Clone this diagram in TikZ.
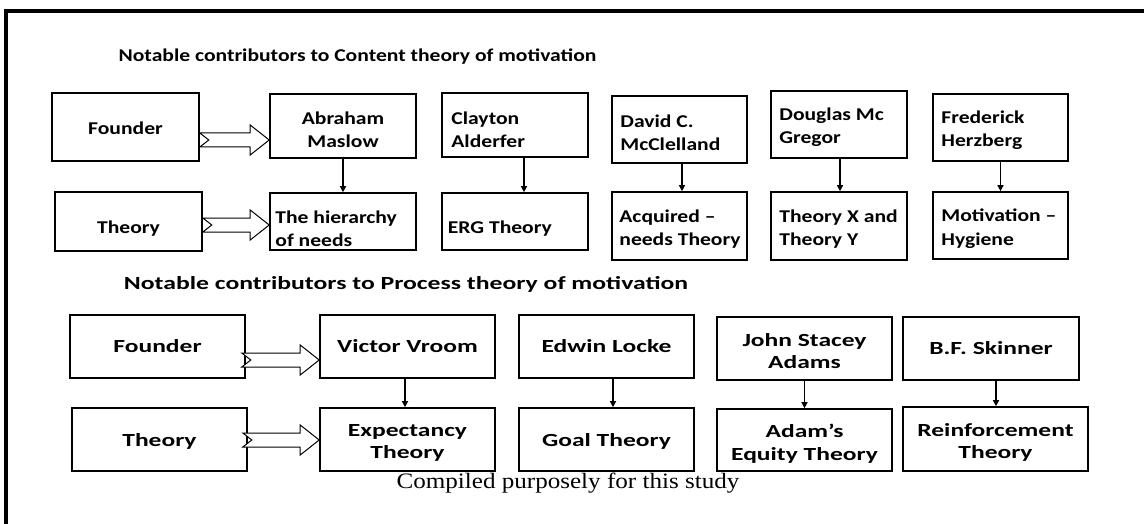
\documentclass[tikz,border=0pt]{standalone}
\usepackage{fontspec}
\setmainfont{Liberation Serif}
\newfontfamily\capfont{Liberation Serif}[FakeStretch=1.14]
\newfontfamily\cfont{Carlito}[FakeStretch=1.2]
\newfontfamily\pfont{Carlito}[FakeStretch=1.38]
\newfontfamily\tafont{Carlito}[FakeStretch=1.2]
\newfontfamily\tbfont{Carlito}[FakeStretch=1.39]
\usetikzlibrary{arrows.meta,calc}
\tikzset{
  bx/.style={draw, line width=1.6pt, inner sep=0pt},
  ct/.style={inner sep=0pt, align=left, font=\cfont\bfseries\fontsize{18}{23.5}\selectfont},
  ctc/.style={ct, align=center},
  pt/.style={inner sep=0pt, align=center, font=\pfont\bfseries\fontsize{18.5}{22.5}\selectfont},
  harrow/.style={draw, line width=1pt, fill=white, line join=miter},
  varrow/.style={line width=1.3pt, -{Triangle[length=6pt,width=6pt]}},
}
\newcommand\abox[5]{\node[bx, minimum width=#4pt, minimum height=#5pt] (#1) at (#2,-#3) {};}
\newcommand\hollowarrow[2]{%
  \draw[harrow] let \p1=(#1), \p2=(#2) in
    (\x1,\y1+7pt) -- (\x2-19pt,\y1+7pt) -- (\x2-19pt,\y1+15pt) -- (\x2,\y1)
    -- (\x2-19pt,\y1-15pt) -- (\x2-19pt,\y1-7pt) -- (\x1,\y1-7pt)
    -- (\x1+9pt,\y1) -- cycle;}
\begin{document}
\begin{tikzpicture}[x=1pt,y=1pt]
\useasboundingbox (0,0) rectangle (1144,-524);
\fill[white] (0,0) rectangle (1144,-524);
\draw[line width=4pt] (6,-524) -- (6,-11) -- (1144,-11);

% titles
\node[font=\tafont\bfseries\fontsize{18}{21}\selectfont] (t1) at (357.5,-57) {Notable contributors to Content theory of motivation};
\node[font=\tbfont\bfseries\fontsize{18.5}{21}\selectfont] (t2) at (406,-284) {Notable contributors to Process theory of motivation};

% content boxes
\abox{founder}{125.5}{127}{147}{68}
\abox{maslow}{343}{126}{146}{64}
\abox{clayton}{515}{125}{146}{64}
\abox{theory}{128.5}{221.5}{147}{59}
\abox{hier}{343}{221.5}{146}{57}
\abox{erg}{515}{221.5}{146}{57}
\abox{david}{679.5}{129.5}{135}{67}
\abox{douglas}{839}{124.5}{136}{67}
\abox{fred}{1000.5}{127.5}{135}{67}
\abox{acq}{679.5}{226}{135}{68}
\abox{tx}{839}{226}{136}{68}
\abox{mot}{1000.5}{225.5}{135}{67}

\node[ctc] (founder-t) at ([yshift=-1pt]founder.center) {Founder};
\node[ctc] (maslow-t) at ([yshift=-4pt]maslow.center) {Abraham\\Maslow};
\node[ct, anchor=west] (clayton-t) at ([xshift=10pt,yshift=-5pt]clayton.west) {Clayton\\Alderfer};
\node[ctc] (theory-t) at ([yshift=-7pt]theory.center) {Theory};
\node[ct, anchor=west] (hier-t) at ([xshift=6pt,yshift=-7.5pt]hier.west) {The hierarchy\\of needs};
\node[ct, anchor=west] (erg-t) at ([xshift=6.5pt,yshift=-7pt]erg.west) {ERG Theory};
\node[ct, anchor=west] (david-t) at ([xshift=9pt,yshift=-3.5pt]david.west) {David C.\\McClelland};
\node[ct, anchor=west] (douglas-t) at ([xshift=9pt,yshift=-2.5pt]douglas.west) {Douglas Mc\\Gregor};
\node[ct, anchor=west] (fred-t) at ([xshift=9pt,yshift=-2.5pt]fred.west) {Frederick\\Herzberg};
\node[ct, anchor=west] (acq-t) at ([xshift=8pt,yshift=-3pt]acq.west) {Acquired –\\needs Theory};
\node[ct, anchor=west] (tx-t) at ([xshift=9pt,yshift=-3pt]tx.west) {Theory X and\\Theory Y};
\node[ct, anchor=west] (mot-t) at ([xshift=9pt,yshift=-3pt]mot.west) {Motivation –\\Hygiene};

% process boxes
\abox{f2}{157.5}{346.5}{175}{63}
\abox{victor}{407.5}{346.5}{175}{63}
\abox{edwin}{606.5}{346.5}{175}{63}
\abox{th2}{159.5}{439.5}{175}{63}
\abox{expect}{407.5}{439.5}{175}{63}
\abox{goal}{606.5}{439.5}{175}{63}
\abox{john}{804.5}{348.5}{175}{63}
\abox{skinner}{991}{348.5}{176}{63}
\abox{adam}{804.5}{440}{175}{62}
\abox{reinf}{995.5}{439}{185}{64}

\node[pt] (f2-t) at (f2.center) {Founder};
\node[pt] (victor-t) at (victor.center) {Victor Vroom};
\node[pt] (edwin-t) at (edwin.center) {Edwin Locke};
\node[pt] (th2-t) at ([yshift=-1.5pt]th2.center) {Theory};
\node[pt] (expect-t) at ([yshift=-3.5pt]expect.center) {Expectancy\\Theory};
\node[pt] (goal-t) at ([yshift=-1.5pt]goal.center) {Goal Theory};
\node[pt] (john-t) at ([yshift=-2.5pt]john.center) {John Stacey\\Adams};
\node[pt] (skinner-t) at (skinner.center) {B.F. Skinner};
\node[pt] (adam-t) at ([yshift=-3.5pt]adam.center) {Adam’s\\Equity Theory};
\node[pt] (reinf-t) at ([yshift=-3.5pt]reinf.center) {Reinforcement\\Theory};

% caption
\node[font=\capfont\fontsize{22}{26}\selectfont] (cap) at (568,-483) {Compiled purposely for this study};

% hollow arrows
\path ([yshift=-13pt]founder.east) coordinate (a1s);
\path (a1s -| maslow.west) coordinate (a1e);
\hollowarrow{a1s}{a1e}
\path ([yshift=-3.5pt]theory.east) coordinate (a2s);
\path (a2s -| hier.west) coordinate (a2e);
\hollowarrow{a2s}{a2e}
\path ([xshift=-4pt,yshift=-13.5pt]f2.east) coordinate (a3s);
\path (a3s -| victor.west) coordinate (a3e);
\hollowarrow{a3s}{a3e}
\path ([xshift=-5pt,yshift=-0.5pt]th2.east) coordinate (a4s);
\path (a4s -| expect.west) coordinate (a4e);
\hollowarrow{a4s}{a4e}

% vertical arrows
\draw[varrow] (maslow.south) -- (maslow.south |- hier.north);
\draw[varrow] ([xshift=9pt]clayton.south) -- ([xshift=9pt]clayton.south |- erg.north);
\draw[varrow] ([xshift=2.5pt]david.south) -- ([xshift=2.5pt]david.south |- acq.north);
\draw[varrow] ([xshift=1pt]douglas.south) -- ([xshift=1pt]douglas.south |- tx.north);
\draw[varrow] (fred.south) -- (fred.south |- mot.north);
\draw[varrow] ([xshift=-2.5pt]victor.south) -- ([xshift=-2.5pt]victor.south |- expect.north);
\draw[varrow] ([xshift=6.5pt]edwin.south) -- ([xshift=6.5pt]edwin.south |- goal.north);
\draw[varrow] (john.south) -- (john.south |- adam.north);
\draw[varrow] ([xshift=5pt]skinner.south) -- ([xshift=5pt]skinner.south |- reinf.north);
\end{tikzpicture}
\end{document}
